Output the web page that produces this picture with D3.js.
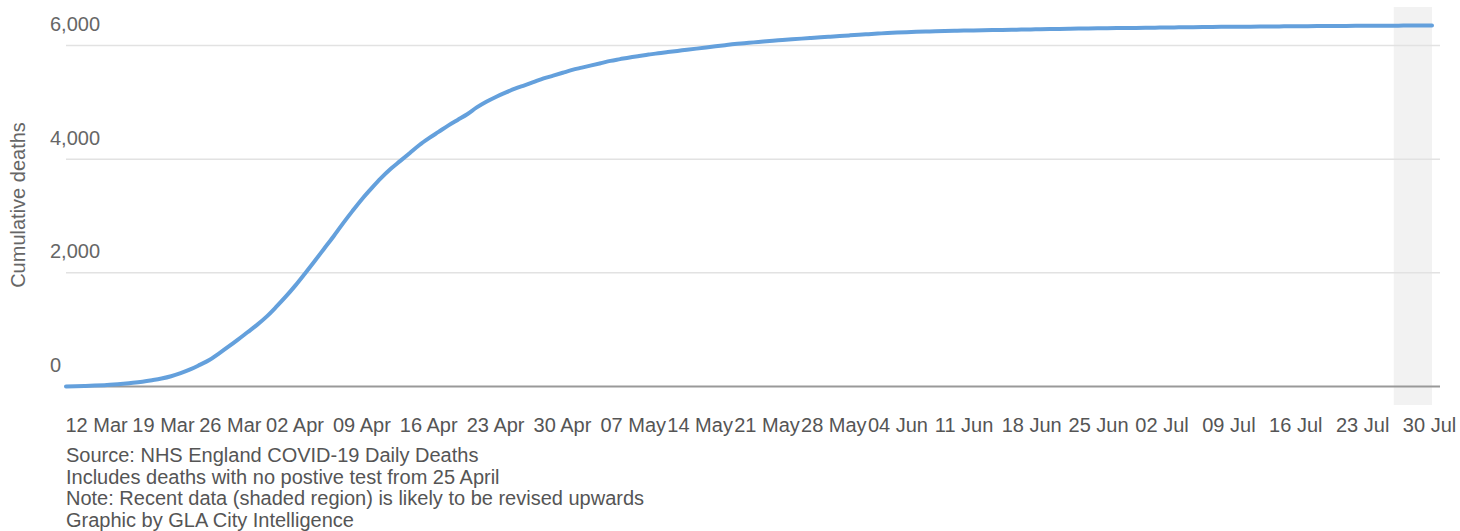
<!DOCTYPE html>
<html>
<head>
<meta charset="utf-8">
<script src="https://cdn.jsdelivr.net/npm/d3@7"></script>
<style>
    body { margin: 0; background: #fff; }
    text { font-family: "Liberation Sans", Arial, sans-serif; }
</style>
</head>
<body>
<div id="chart"></div>
<script>
// first day of the series, one value per day after it
const startDate = '2020-03-12';
const cumulativeDeaths = [
    2, 5, 10, 16, 24, 34, 48, 64, 84, 110,
    140, 180, 235, 300, 380, 465, 580, 700, 825, 955,
    1085, 1230, 1400, 1580, 1775, 1985, 2200, 2420, 2640, 2870,
    3090, 3300, 3490, 3670, 3830, 3970, 4110, 4250, 4370, 4480,
    4590, 4690, 4790, 4910, 5010, 5095, 5170, 5240, 5300, 5360,
    5420, 5470, 5520, 5570, 5610, 5650, 5690, 5730, 5760, 5790,
    5815, 5840, 5865, 5885, 5905, 5925, 5945, 5965, 5985, 6005,
    6025, 6040, 6055, 6070, 6085, 6097, 6109, 6121, 6133, 6145,
    6156, 6167, 6178, 6189, 6200, 6210, 6220, 6228, 6235, 6241,
    6246, 6250, 6254, 6258, 6262, 6265, 6268, 6271, 6274, 6277,
    6280, 6283, 6286, 6289, 6292, 6295, 6298, 6300, 6302, 6304,
    6306, 6308, 6310, 6312, 6314, 6316, 6318, 6320, 6322, 6324,
    6326, 6328, 6330, 6331, 6332, 6334, 6335, 6336, 6338, 6339,
    6340, 6342, 6343, 6344, 6345, 6346, 6347, 6348, 6348, 6349,
    6350, 6350, 6351, 6351
];
const shadedFrom = '2020-07-29';
const yTicks = [0, 2000, 4000, 6000];
const notes = [
    'Source: NHS England COVID-19 Daily Deaths',
    'Includes deaths with no postive test from 25 April',
    'Note: Recent data (shaded region) is likely to be revised upwards',
    'Graphic by GLA City Intelligence'
];

const parseDate = d3.timeParse('%Y-%m-%d');
const start = parseDate(startDate);
const data = cumulativeDeaths.map((v, i) => ({ date: d3.timeDay.offset(start, i), value: v }));

const width = 1460, height = 531;
const svg = d3.select('#chart').append('svg')
    .attr('width', width)
    .attr('height', height);

// Scales
const x = d3.scaleTime()
    .domain(d3.extent(data, d => d.date))
    .range([66, 1432]);
const y = d3.scaleLinear()
    .domain([0, 6000])
    .range([386.5, 45.5]);

// shaded "recent data" band
svg.append('rect')
    .attr('x', x(parseDate(shadedFrom)))
    .attr('y', 7)
    .attr('width', x(data[data.length - 1].date) - x(parseDate(shadedFrom)))
    .attr('height', 398)
    .attr('fill', '#f2f2f2');

// gridlines + y labels
const grid = svg.append('g').attr('class', 'grid');
grid.selectAll('line')
    .data(yTicks.filter(d => d > 0))
    .enter()
    .append('line')
    .attr('x1', 66)
    .attr('x2', 1440)
    .attr('y1', d => y(d))
    .attr('y2', d => y(d))
    .attr('stroke', '#e2e2e2')
    .attr('stroke-width', 1.5);

svg.append('line')
    .attr('x1', 66)
    .attr('x2', 1440)
    .attr('y1', y(0))
    .attr('y2', y(0))
    .attr('stroke', '#999')
    .attr('stroke-width', 2);

svg.append('g')
    .selectAll('text')
    .data(yTicks)
    .enter()
    .append('text')
    .attr('x', 50)
    .attr('y', d => y(d) - 14.5)
    .attr('fill', '#666')
    .style('font-size', '20px')
    .text(d => d3.format(',')(d));

svg.append('text')
    .attr('transform', 'translate(25,205) rotate(-90)')
    .attr('text-anchor', 'middle')
    .attr('fill', '#666')
    .style('font-size', '20px')
    .text('Cumulative deaths');

// x axis labels, weekly on Thursdays
const xAxis = d3.axisBottom(x)
    .ticks(d3.timeThursday.every(1))
    .tickFormat(d3.timeFormat('%d %b'))
    .tickSize(0);
const xg = svg.append('g')
    .attr('transform', 'translate(0,417)')
    .call(xAxis);
xg.select('.domain').remove();
xg.selectAll('text')
    .attr('text-anchor', 'start')
    .attr('x', -1)
    .attr('dy', 0)
    .attr('y', 15)
    .attr('fill', '#555')
    .style('font-family', '"Liberation Sans", Arial, sans-serif')
    .style('font-size', '20px');

// the line
const line = d3.line()
    .x(d => x(d.date))
    .y(d => y(d.value))
    .curve(d3.curveMonotoneX);
svg.append('path')
    .datum(data)
    .attr('fill', 'none')
    .attr('stroke', '#64a0dc')
    .attr('stroke-width', 4)
    .attr('stroke-linecap', 'round')
    .attr('d', line);

// notes under the chart
svg.append('g')
    .selectAll('text')
    .data(notes)
    .enter()
    .append('text')
    .attr('x', 66)
    .attr('y', (d, i) => 462 + i * 21.6)
    .attr('fill', '#555')
    .style('font-size', '20px')
    .text(d => d);
</script>
</body>
</html>
